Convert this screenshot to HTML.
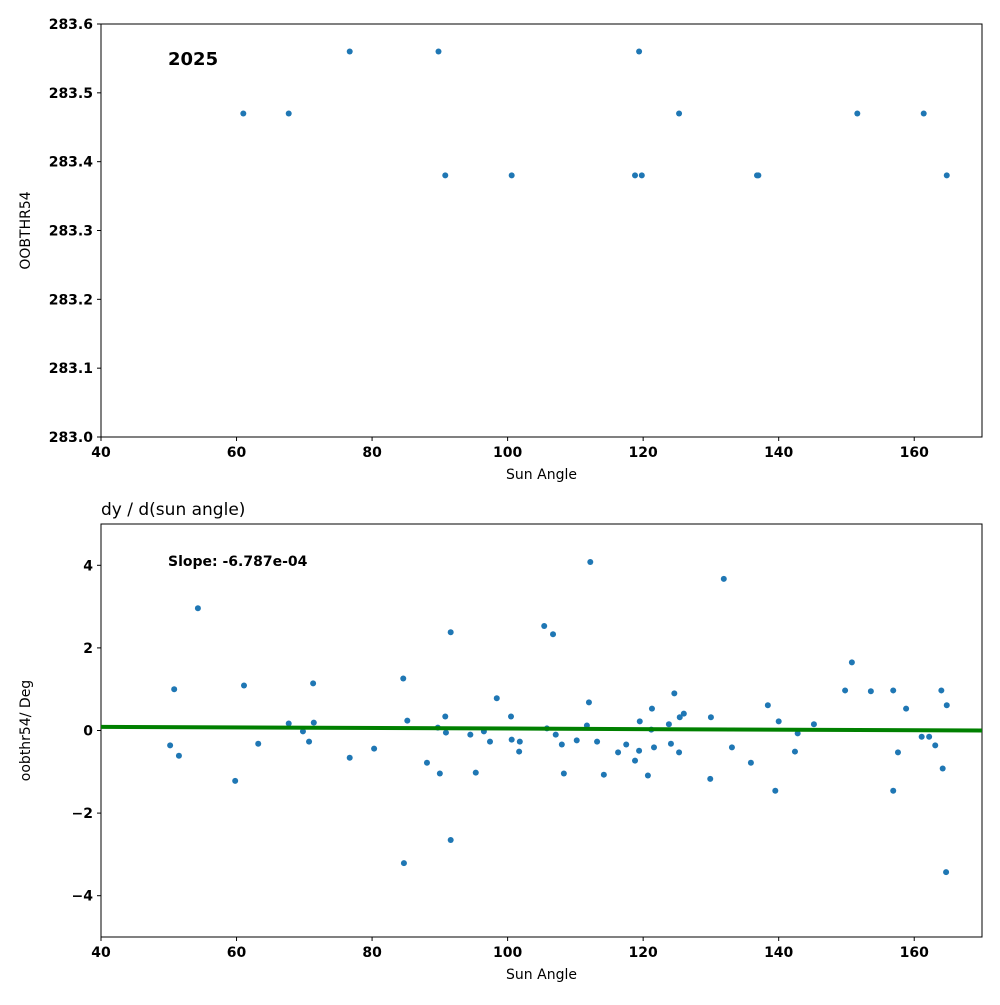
<!DOCTYPE html>
<html><head><meta charset="utf-8"><style>
body{margin:0;background:#fff;}
svg{font-family:"DejaVu Sans","Liberation Sans",sans-serif;}
.tick{font-size:14px;font-weight:bold;fill:#000;}
.lab{font-size:14px;fill:#000;}
</style></head><body>
<svg id="chart" width="1000" height="1000" xmlns="http://www.w3.org/2000/svg"></svg>
<script>
const topX=[61,67.7,76.7,89.8,90.8,100.6,118.8,119.4,119.8,125.3,136.8,137,151.6,161.4,164.8];
const topY=[283.47,283.47,283.56,283.56,283.38,283.38,283.38,283.56,283.38,283.47,283.38,283.38,283.47,283.47,283.38];
const botX=[50.2,50.8,51.5,54.3,59.8,61.1,63.2,67.7,69.8,70.7,71.3,71.4,76.7,80.3,84.6,84.7,85.2,88.1,89.7,90.0,90.8,90.9,91.6,91.6,94.5,95.3,96.5,97.4,98.4,100.5,100.6,101.7,101.8,105.4,105.8,106.7,107.1,108.0,108.3,110.2,111.7,112.0,112.2,113.2,114.2,116.3,117.5,118.8,119.4,119.5,120.7,121.2,121.3,121.6,123.8,124.1,124.6,125.3,125.4,126.0,129.9,130.0,131.9,133.1,135.9,138.4,139.5,140.0,142.4,142.8,145.2,149.8,150.8,153.6,156.9,156.9,157.6,158.8,161.1,162.2,163.1,164.0,164.2,164.7,164.8];
const botY=[-0.36,1.0,-0.61,2.96,-1.22,1.09,-0.32,0.17,-0.02,-0.27,1.14,0.19,-0.66,-0.44,1.26,-3.21,0.24,-0.78,0.07,-1.04,0.34,-0.05,2.38,-2.65,-0.10,-1.02,-0.02,-0.27,0.78,0.34,-0.22,-0.51,-0.27,2.53,0.05,2.33,-0.10,-0.34,-1.04,-0.24,0.12,0.68,4.08,-0.27,-1.07,-0.53,-0.34,-0.73,-0.49,0.22,-1.09,0.02,0.53,-0.41,0.15,-0.32,0.9,-0.53,0.32,0.41,-1.17,0.32,3.67,-0.41,-0.78,0.61,-1.46,0.22,-0.51,-0.07,0.15,0.97,1.65,0.95,0.97,-1.46,-0.53,0.53,-0.15,-0.15,-0.36,0.97,-0.92,-3.43,0.61];
const xTicks=[40,60,80,100,120,140,160];
const topTicks=[283.0,283.1,283.2,283.3,283.4,283.5,283.6];
const botTicks=[-4,-2,0,2,4];
const slope=-6.787e-4, intercept=0.115;

const NS="http://www.w3.org/2000/svg";
const svg=document.getElementById('chart');
function el(t,a,txt){const e=document.createElementNS(NS,t);for(const k in a)e.setAttribute(k,a[k]);if(txt!==undefined)e.textContent=txt;svg.appendChild(e);return e;}
const X0=101,X1=982;
const sx=v=>X0+(v-40)/130*(X1-X0);
const tY0=24,tY1=437; const syT=v=>tY1-(v-283.0)/0.6*(tY1-tY0);
const bY0=524,bY1=937; const syB=v=>bY1-(v+5)/10*(bY1-bY0);

function axes(y0,y1,yt,sy,fmt,ylabel,name){
  const r=el('rect',{x:X0,y:y0,width:X1-X0,height:y1-y0,fill:'none',stroke:'#000','stroke-width':1});
  
  
  xTicks.forEach(t=>{
    el('line',{x1:sx(t),x2:sx(t),y1:y1,y2:y1+4,stroke:'#000'});
    const tx=el('text',{x:sx(t),y:y1+20,'text-anchor':'middle',class:'tick'},t);
    
    
  });
  yt.forEach(t=>{
    el('line',{x1:X0-4,x2:X0,y1:sy(t),y2:sy(t),stroke:'#000'});
    const tx=el('text',{x:X0-8,y:sy(t)+5,'text-anchor':'end',class:'tick'},fmt(t));
    
    
  });
  const xl=el('text',{x:(X0+X1)/2,y:y1+42,'text-anchor':'middle',class:'lab'},'Sun Angle');
  
  
  const cy=(y0+y1)/2;
  const yl=el('text',{x:30,y:cy,'text-anchor':'middle',class:'lab',transform:`rotate(-90 30 ${cy})`},ylabel);
  
  
}
axes(tY0,tY1,topTicks,syT,v=>v.toFixed(1),'OOBTHR54','top');
axes(bY0,bY1,botTicks,syB,v=>(v<0?'\u2212'+Math.abs(v):String(v)),'oobthr54/ Deg','bottom');

topX.forEach((x,i)=>{
  const c=el('circle',{cx:sx(x),cy:syT(topY[i]),r:3,fill:'#1f77b4'});
  
  
});
botX.forEach((x,i)=>{
  const c=el('circle',{cx:sx(x),cy:syB(botY[i]),r:3,fill:'#1f77b4'});
  
  
});
const tl=el('line',{x1:sx(40),y1:syB(intercept+slope*40),x2:sx(170),y2:syB(intercept+slope*170),stroke:'#008000','stroke-width':4});



const yr=el('text',{x:168,y:65,style:'font-size:18px;font-weight:bold'},'2025');


const ti=el('text',{x:101,y:515,style:'font-size:17px'},'dy / d(sun angle)');


const sl=el('text',{x:168,y:566,style:'font-size:14px;font-weight:bold'},'Slope: -6.787e-04');


</script>
</body></html>
